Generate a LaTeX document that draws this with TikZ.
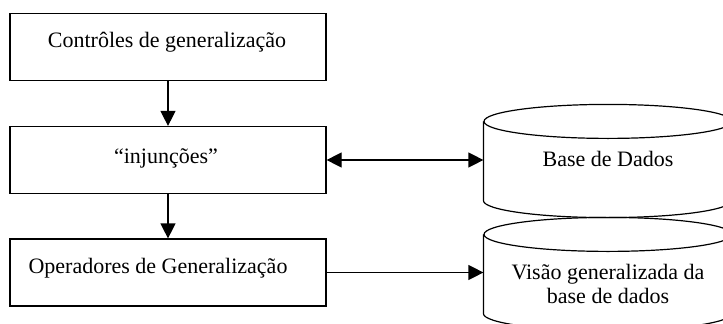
\documentclass[tikz,border=0pt]{standalone}
\usepackage{fontspec}
\setmainfont{Liberation Serif}
\usetikzlibrary{arrows.meta}
\begin{document}
\begin{tikzpicture}[x=1pt,y=-1pt,
  line width=1.2pt,
  stepbox/.style={draw, rectangle, minimum width=316pt, minimum height=67pt, inner sep=0pt},
  cylbody/.style={rectangle, minimum width=248pt, minimum height=78pt, inner sep=0pt},
  txt/.style={anchor=base, inner sep=0pt, font=\fontsize{22}{24}\selectfont},
  flow/.style={-{Triangle[length=15pt,width=15pt]}},
  both/.style={{Triangle[length=15pt,width=15pt]}-{Triangle[length=15pt,width=15pt]}}]
  \clip (0,0) rectangle (723,324);
  \useasboundingbox (0,0) rectangle (723,324);

  % processing steps
  \node[stepbox] (ctrl) at (168,47) {};
  \node[stepbox] (inj)  at (168,160) {};
  \node[stepbox] (oper) at (168,272.5) {};
  \node[txt] (ctrlt) at (167,47) {Contrôles de generalização};
  \node[txt] (injt)  at (166,163) {“injunções”};
  \node[txt] (opert) at (158,273) {Operadores de Generalização};

  % databases (cylinders)
  \node[cylbody] (db)  at (608,161) {};
  \node[cylbody] (vis) at (608,274) {};
  \foreach \c in {db,vis}{
    \draw (\c.north west) -- (\c.south west)
      arc[start angle=180, end angle=360, x radius=124pt, y radius=17pt]
      -- (\c.north east);
    \draw (\c.north) ellipse[x radius=124pt, y radius=17pt];
  }
  \node[txt] (dbt) at (608,166) {Base de Dados};
  \node[txt] (vist1) at (608,279) {Visão generalizada da};
  \node[txt] (vist2) at (608,303) {base de dados};

  % connectors
  \draw[flow] (ctrl.south) -- (inj.north);
  \draw[flow] (inj.south) -- (oper.north);
  \draw[both] (inj.east) -- (inj.east -| db.west);
  \draw[flow] (oper.east) -- (oper.east -| vis.west);
\end{tikzpicture}
\end{document}
